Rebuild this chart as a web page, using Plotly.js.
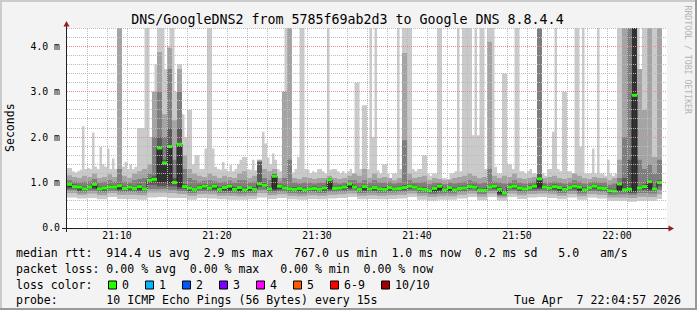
<!DOCTYPE html>
<html><head><meta charset="utf-8">
<script src="https://cdn.plot.ly/plotly-3.0.1.min.js"></script>
<style>html,body{margin:0;padding:0;background:#f3f3f3;}#chart{width:697px;height:310px;}</style>
</head><body><div id="chart"></div>
<script>
// ---------------- data ----------------
const chartTitle = 'DNS/GoogleDNS2 from 5785f69ab2d3 to Google DNS 8.8.4.4';
const yTitle = 'Seconds';
const xTickTimes = ['21:10','21:20','21:30','21:40','21:50','22:00'];
const yTickVals = [0,1,2,3,4];
const yTickLabels = ['0.0','1.0 m','2.0 m','3.0 m','4.0 m'];
const lossLabels = ['0','1','2','3','4','5','6-9','10/10'];
const lossColors = ['#22ff00','#00b8ff','#0059ff','#7e00ff','#ff00ff','#ff5a00','#ff0000','#a10000'];
const statsLine1 = 'median rtt:  914.4 us avg  2.9 ms max   767.0 us min  1.0 ms now  0.2 ms sd   5.0   am/s';
const statsLine2 = 'packet loss: 0.00 % avg  0.00 % max   0.00 % min  0.00 % now';
const probeLine = 'probe:       10 ICMP Echo Pings (56 Bytes) every 15s';
const stampLine = 'Tue Apr  7 22:04:57 2026';
const watermark = 'RRDTOOL / TOBI OETIKER';

// slowest ping of each 15 s round (ms)
const ping10 = [1.32,1.32,1.25,1.22,1.25,1.28,2.24,1.3,1.32,1.3,
2.1,1.35,1.3,1.78,1.4,1.35,1.75,1.3,1.53,1.3,
4.5,4.5,1.35,1.45,1.3,1.4,1.3,1.35,2.2,2.2,
2.2,4.5,4.5,2.0,3.0,3.6,4.5,4.5,4.5,3.5,
4.0,4.5,4.5,3.0,3.6,3.6,2.5,2.0,2.6,2.6,
1.4,1.6,1.6,1.3,1.3,1.75,4.5,4.5,1.75,1.35,
1.3,1.28,1.45,1.3,1.25,1.38,1.25,1.3,1.4,1.5,
1.56,1.56,1.3,1.28,1.5,1.27,1.5,1.46,2.12,1.86,
1.55,1.4,1.64,1.5,1.3,1.25,3.0,4.5,4.5,1.25,
1.22,1.3,1.56,4.5,4.5,1.3,1.28,1.2,1.25,1.22,
1.3,1.3,1.25,1.2,4.5,1.28,1.3,1.3,1.25,1.2,
1.25,1.2,1.25,1.3,1.2,3.2,3.2,1.3,2.7,2.7,
1.3,4.5,2.0,4.5,1.27,1.2,1.4,1.4,1.2,1.08,
1.2,1.2,4.5,1.3,4.5,4.5,4.5,4.5,1.3,1.25,
1.3,1.3,1.6,1.6,1.2,1.15,1.2,1.2,4.5,4.5,
1.1,1.1,1.08,1.2,1.2,1.25,4.5,1.25,4.5,4.5,
4.5,4.5,2.04,4.5,2.04,4.5,4.5,1.3,4.5,4.5,
4.5,1.35,1.2,1.2,3.4,3.4,1.4,1.4,1.3,4.5,
4.5,1.25,1.25,1.2,1.25,1.3,1.2,1.2,4.5,4.5,
1.2,1.15,1.3,1.3,2.12,4.5,1.3,1.25,3.0,3.0,
1.25,1.25,1.2,4.5,4.5,1.79,4.5,1.2,1.2,1.2,
1.75,1.2,4.5,1.2,1.2,1.15,1.5,1.2,1.15,1.2,
4.5,4.5,4.5,4.5,4.5,4.5,4.5,4.5,4.5,3.47,
4.5,4.5,4.5,4.5,4.5,4.5,4.5,4.5];

// 30 s steps (ms)
const median = [0.96,0.91,0.9,0.86,0.9,0.96,0.86,0.88,0.9,0.9,
0.93,0.87,0.9,0.87,0.91,0.86,1.05,1.07,1.76,1.43,
1.79,1.0,1.84,0.91,0.88,0.85,0.89,0.92,0.88,0.92,
0.85,0.89,0.92,0.85,0.89,0.84,0.89,0.85,0.97,0.94,
0.86,1.14,0.92,0.88,0.86,0.85,0.87,0.84,0.86,0.87,
0.85,0.88,1.06,0.87,0.88,0.9,0.97,0.9,0.85,0.91,
0.86,0.89,0.86,0.85,0.89,0.86,0.87,0.89,0.92,0.9,
0.86,0.85,0.82,0.87,0.92,0.84,0.89,0.84,0.87,0.88,
0.91,0.9,0.83,0.83,0.9,0.92,0.85,0.77,0.9,0.92,
0.88,0.86,0.89,0.92,1.08,0.9,0.88,0.91,0.89,0.85,
0.89,0.92,0.9,0.84,0.89,0.92,0.88,0.87,0.82,0.81,
0.97,0.84,0.85,2.92,0.88,0.91,1.02,0.86,1.0];
const ping9 = [1.16,1.12,1.1,1.15,1.12,1.2,1.1,1.12,1.18,1.12,
4.5,1.15,1.1,1.2,1.25,1.3,1.4,3.0,3.87,2.5,
3.96,2.37,3.5,1.6,1.3,1.2,1.15,1.12,1.2,1.15,
1.1,1.15,1.12,1.1,1.2,1.25,1.1,1.15,1.5,1.3,
1.25,1.3,1.1,3.0,4.5,1.1,1.08,1.12,1.1,1.08,
1.1,1.1,1.15,1.1,1.08,1.1,1.15,1.2,1.15,1.3,
1.1,1.2,1.1,1.12,1.1,1.05,1.1,3.85,1.2,1.1,
1.12,1.15,1.05,1.1,1.08,1.05,1.06,1.1,1.12,1.15,
1.2,1.15,1.1,1.12,4.1,1.15,1.1,1.15,1.12,1.2,
1.1,1.08,1.1,1.12,4.5,1.1,1.12,1.15,1.1,1.08,
1.1,1.2,1.15,1.1,1.08,1.12,1.1,1.1,1.05,1.1,
1.5,4.5,4.5,4.5,3.5,2.6,4.5,1.56,4.5];
const ping8 = [1.05,1.02,1.0,1.02,1.03,1.08,1.0,1.02,1.05,1.02,
1.3,1.02,1.0,1.05,1.08,1.1,1.2,2.0,3.0,2.0,
3.5,1.5,3.0,1.3,1.1,1.05,1.02,1.04,1.05,1.03,
1.0,1.02,1.04,1.0,1.05,1.05,1.0,1.02,1.46,1.1,
1.05,1.2,1.02,1.1,1.5,1.0,0.98,1.0,1.0,0.98,
1.0,1.0,1.1,1.0,0.98,1.0,1.05,1.05,1.0,1.05,
1.0,1.05,1.0,1.0,1.02,0.98,1.0,1.93,1.05,1.0,
1.0,1.02,0.96,1.0,1.0,0.96,1.0,0.98,1.0,1.02,
1.05,1.02,0.98,1.0,1.3,1.02,1.0,0.98,1.0,1.05,
1.0,0.98,1.0,1.02,4.5,1.0,1.0,1.02,1.0,0.98,
1.0,1.05,1.02,0.98,1.0,1.02,1.0,1.0,0.95,0.98,
1.1,2.0,4.5,4.5,1.5,1.3,1.4,1.2,1.5];
const ping7 = [1.0,0.96,0.94,0.91,0.94,1.0,0.91,0.92,0.95,0.94,
0.98,0.91,0.95,0.91,0.96,0.9,1.1,1.15,2.0,1.5,
2.2,1.1,2.2,0.96,0.93,0.89,0.94,0.96,0.93,0.96,
0.9,0.93,0.96,0.9,0.93,0.89,0.93,0.9,1.46,0.99,
0.9,1.19,0.96,0.93,0.9,0.9,0.91,0.89,0.9,0.92,
0.89,0.93,1.1,0.91,0.93,0.94,1.01,0.95,0.89,0.95,
0.91,0.93,0.9,0.9,0.93,0.91,0.91,0.94,0.96,0.95,
0.9,0.9,0.86,0.91,0.97,0.88,0.93,0.89,0.91,0.93,
0.95,0.95,0.87,0.88,0.94,0.96,0.9,0.81,0.95,0.96,
0.93,0.9,0.94,0.96,1.2,0.95,0.92,0.96,0.93,0.9,
0.93,0.97,0.94,0.89,0.93,0.96,0.93,0.91,0.87,0.85,
1.01,1.1,1.5,4.5,0.92,0.96,1.06,0.91,1.05];
const ping6 = [0.97,0.93,0.91,0.88,0.91,0.97,0.88,0.89,0.92,0.91,
0.95,0.88,0.92,0.88,0.93,0.87,1.06,1.09,1.76,1.43,
1.79,1.02,1.84,0.92,0.9,0.86,0.91,0.93,0.9,0.93,
0.87,0.9,0.93,0.87,0.9,0.86,0.9,0.87,0.98,0.96,
0.87,1.16,0.93,0.9,0.87,0.87,0.88,0.86,0.87,0.89,
0.86,0.9,1.07,0.88,0.9,0.91,0.98,0.92,0.86,0.92,
0.88,0.9,0.87,0.87,0.9,0.88,0.88,0.91,0.93,0.92,
0.87,0.87,0.83,0.88,0.94,0.85,0.9,0.86,0.88,0.9,
0.92,0.92,0.84,0.85,0.91,0.93,0.87,0.78,0.92,0.93,
0.9,0.87,0.91,0.93,1.09,0.92,0.89,0.93,0.9,0.87,
0.9,0.94,0.91,0.86,0.9,0.93,0.9,0.88,0.84,0.82,
0.98,0.86,0.86,4.5,0.89,0.93,1.03,0.88,1.02];

// 60 s steps (ms), fast side of the smoke
const ping5 = [0.9,0.85,0.89,0.85,0.89,0.86,0.86,0.85,1.03,1.0,
0.98,0.9,0.84,0.88,0.87,0.84,0.84,0.83,0.84,0.93,
0.85,0.87,0.84,0.83,0.85,0.84,0.86,0.87,0.89,0.84,
0.85,0.84,0.85,0.86,0.89,0.84,0.81,0.83,0.83,0.86,
0.89,0.82,0.89,0.76,0.89,0.85,0.88,0.89,0.87,0.84,
0.88,0.83,0.88,0.86,0.8,0.83,0.8,0.87,0.85,0.98];
const ping4 = [0.87,0.82,0.86,0.82,0.86,0.83,0.83,0.82,0.95,0.92,
0.92,0.86,0.81,0.85,0.84,0.81,0.81,0.8,0.81,0.9,
0.82,0.84,0.81,0.8,0.82,0.81,0.83,0.84,0.86,0.81,
0.82,0.81,0.82,0.83,0.86,0.81,0.78,0.8,0.8,0.83,
0.86,0.79,0.86,0.73,0.86,0.82,0.85,0.86,0.84,0.81,
0.85,0.8,0.85,0.83,0.77,0.8,0.77,0.84,0.82,0.92];
const ping3 = [0.83,0.78,0.82,0.78,0.82,0.79,0.79,0.78,0.86,0.86,
0.84,0.81,0.77,0.81,0.8,0.77,0.77,0.76,0.77,0.84,
0.78,0.8,0.77,0.76,0.78,0.77,0.79,0.8,0.82,0.77,
0.78,0.77,0.78,0.79,0.82,0.77,0.74,0.76,0.76,0.79,
0.82,0.75,0.82,0.71,0.82,0.78,0.81,0.82,0.8,0.77,
0.81,0.76,0.81,0.79,0.73,0.74,0.73,0.77,0.76,0.84];
const ping2 = [0.77,0.73,0.76,0.72,0.77,0.73,0.73,0.72,0.78,0.78,
0.77,0.75,0.71,0.75,0.74,0.71,0.71,0.7,0.71,0.77,
0.72,0.74,0.71,0.7,0.72,0.71,0.73,0.74,0.76,0.71,
0.72,0.71,0.72,0.73,0.76,0.71,0.68,0.7,0.7,0.73,
0.76,0.69,0.76,0.67,0.76,0.72,0.75,0.76,0.74,0.71,
0.75,0.7,0.75,0.73,0.67,0.67,0.66,0.69,0.68,0.74];
const ping1 = [0.67,0.65,0.66,0.63,0.68,0.64,0.63,0.62,0.67,0.68,
0.66,0.66,0.62,0.66,0.65,0.63,0.62,0.62,0.63,0.67,
0.64,0.66,0.63,0.62,0.64,0.63,0.65,0.66,0.68,0.63,
0.64,0.63,0.64,0.65,0.68,0.62,0.6,0.62,0.62,0.65,
0.68,0.61,0.68,0.6,0.68,0.64,0.67,0.68,0.66,0.63,
0.67,0.62,0.67,0.65,0.6,0.6,0.58,0.6,0.6,0.64];

// ---------------- drawing ----------------
const T0 = Date.UTC(2026,3,7,21,5,0);
const TEND = Date.UTC(2026,3,7,22,4,30);
const TAX = Date.UTC(2026,3,7,22,5,0);
const MIN = 60000;
const FONT = 'DejaVu Sans Mono, monospace';

function stepXY(vals, dtSec){
  const x=[], y=[];
  for(let k=0;k<vals.length;k++){ x.push(T0+k*dtSec*1000); y.push(vals[k]); }
  x.push(Math.min(T0+vals.length*dtSec*1000, TEND)); y.push(vals[vals.length-1]);
  return {x, y};
}
function band(lo, loDt, hi, hiDt, color){
  const L = stepXY(lo, loDt), H = stepXY(hi, hiDt);
  return [
    {type:'scatter', mode:'lines', x:L.x, y:L.y, line:{width:0, shape:'hv'}, hoverinfo:'skip', showlegend:false},
    {type:'scatter', mode:'lines', x:H.x, y:H.y, line:{width:0, shape:'hv'}, fill:'tonexty', fillcolor:color, hoverinfo:'skip', showlegend:false}
  ];
}
const traces = [].concat(
  band(ping1, 60, ping10, 15, '#cacaca'),
  band(ping2, 60, ping9, 30, '#a4a4a4'),
  band(ping3, 60, ping8, 30, '#7e7e7e'),
  band(ping4, 60, ping7, 30, '#585858'),
  band(ping5, 60, ping6, 30, '#323232')
);
const M = stepXY(median, 30);
traces.push({type:'scatter', mode:'lines', x:M.x, y:M.y, line:{width:1, color:'#202020', shape:'hv'}, hoverinfo:'skip', showlegend:false});
const gx=[], gy=[];
for(let k=0;k<median.length;k++){
  gx.push(T0+k*30000, Math.min(T0+(k+1)*30000, TEND), null);
  gy.push(median[k], median[k], null);
}
traces.push({type:'scatter', mode:'lines', x:gx, y:gy, line:{width:3, color:lossColors[0]}, connectgaps:false, hoverinfo:'skip', showlegend:false});

// geometry helpers (pixels -> paper)
const PL=67, PW=600, PT=28, PH=200, YMAX=4.4;
const px = v => (v-PL)/PW;
const py = v => (PT+PH-v)/PH;

const shapes = [];
// grid (drawn above the smoke, like rrdtool)
for(let m=1;m<60;m++){
  if(m%2===1) continue;
  const major = (m+5)%10===0;
  shapes.push({type:'line', layer:'above', xref:'x', yref:'y', xsizemode:'pixel', xanchor:T0+m*MIN, x0:0.5, x1:0.5, y0:0, y1:YMAX,
    line:{color: major?'#ee8c8c':'#bcbcbc', width:1, dash:'1px,1px'}});
}
for(let k=1;k<=22;k++){
  const v = k/5;
  const major = k%5===0;
  const pyExact = PT+PH - v*PH/YMAX;
  const target = Math.floor(pyExact)+0.5;
  const off = -(target-pyExact);
  shapes.push({type:'line', layer:'above', xref:'x', yref:'y', ysizemode:'pixel', yanchor:v, y0:off, y1:off, x0:T0, x1:TAX,
    line:{color: major?'#ee8c8c':'#bcbcbc', width:1, dash:'1px,1px'}});
}
// axes
shapes.push({type:'line', layer:'above', xref:'paper', yref:'paper', x0:px(66.5), x1:px(66.5), y0:py(232), y1:py(25), line:{color:'#202020', width:1}});
shapes.push({type:'line', layer:'above', xref:'paper', yref:'paper', x0:px(62), x1:px(669), y0:py(228.5), y1:py(228.5), line:{color:'#202020', width:1}});
shapes.push({type:'path', layer:'above', xref:'paper', yref:'paper',
  path:`M ${px(66.5)} ${py(21)} L ${px(63.5)} ${py(26.5)} L ${px(69.5)} ${py(26.5)} Z`, fillcolor:'#9a1c1c', line:{width:0}});
shapes.push({type:'path', layer:'above', xref:'paper', yref:'paper',
  path:`M ${px(674)} ${py(228.5)} L ${px(668.5)} ${py(225.5)} L ${px(668.5)} ${py(231.5)} Z`, fillcolor:'#9a1c1c', line:{width:0}});
// frame
shapes.push({type:'rect', layer:'above', xref:'paper', yref:'paper', x0:px(0), x1:px(697), y0:py(0), y1:py(2), fillcolor:'#cbcbcb', line:{width:0}});
shapes.push({type:'rect', layer:'above', xref:'paper', yref:'paper', x0:px(0), x1:px(2), y0:py(0), y1:py(310), fillcolor:'#cbcbcb', line:{width:0}});
shapes.push({type:'rect', layer:'above', xref:'paper', yref:'paper', x0:px(0), x1:px(697), y0:py(308), y1:py(310), fillcolor:'#999999', line:{width:0}});
shapes.push({type:'rect', layer:'above', xref:'paper', yref:'paper', x0:px(695), x1:px(697), y0:py(0), y1:py(310), fillcolor:'#999999', line:{width:0}});
// loss colour boxes
const boxX = [108,145,182,219,256,293,330,381];
const labX = [122,159,196,233,270,307,344,395];
const rowY = [253,269,285,300];
lossColors.forEach((c,i)=>{
  shapes.push({type:'rect', layer:'above', xref:'paper', yref:'paper', x0:px(boxX[i]+0.5), x1:px(boxX[i]+8.5), y0:py(rowY[2]+4), y1:py(rowY[2]-4),
    fillcolor:c, line:{color:'#000', width:1}});
});

const nb = s => s.replace(/ /g,'\u00a0');
const ann = [];
function txt(s, x, y, anchor, size, color, angle){
  ann.push({text:nb(s), xref:'paper', yref:'paper', x:px(x), y:py(y), xanchor:anchor||'left', yanchor:'middle',
    showarrow:false, borderpad:0, borderwidth:0, textangle:angle||0,
    font:{family:FONT, size:size||11.56, color:color||'#000'}});
}
txt(statsLine1, 16, rowY[0]);
txt(statsLine2, 16, rowY[1]);
txt('loss color:', 16, rowY[2]);
lossLabels.forEach((l,i)=>txt(l, labX[i], rowY[2]));
txt(probeLine, 16, rowY[3]);
txt(stampLine, 680.5, rowY[3], 'right');
txt(yTitle, 10, 128, 'center', 11.56, '#000', -90);
txt(watermark, 687.5, 60, 'center', 8.2, '#b4b4b4', 90);

const xTickVals = xTickTimes.map(t=>{const [h,m]=t.split(':').map(Number); return Date.UTC(2026,3,7,h,m,0);});

const layout = {
  width:697, height:310,
  paper_bgcolor:'#f3f3f3', plot_bgcolor:'#ffffff',
  margin:{l:PL, r:697-PL-PW, t:PT, b:310-PT-PH, pad:0},
  showlegend:false, hovermode:false,
  title:{text:chartTitle, x:347.5/697, xanchor:'center', y:1-19/310, yanchor:'middle', font:{family:FONT, size:13.3, color:'#000'}},
  xaxis:{type:'date', range:[T0, TAX], tickvals:xTickVals, ticktext:xTickTimes, showgrid:false, zeroline:false, showline:false,
    ticks:'', tickfont:{family:FONT, size:9.8, color:'#000'}, fixedrange:true},
  yaxis:{range:[0, YMAX], tickvals:yTickVals, ticktext:yTickLabels, showgrid:false, zeroline:false, showline:false,
    ticks:'', ticklabelstandoff:6, tickfont:{family:FONT, size:9.8, color:'#000'}, fixedrange:true},
  shapes:shapes, annotations:ann
};
Plotly.newPlot('chart', traces, layout, {staticPlot:true, displayModeBar:false});
</script></body></html>
